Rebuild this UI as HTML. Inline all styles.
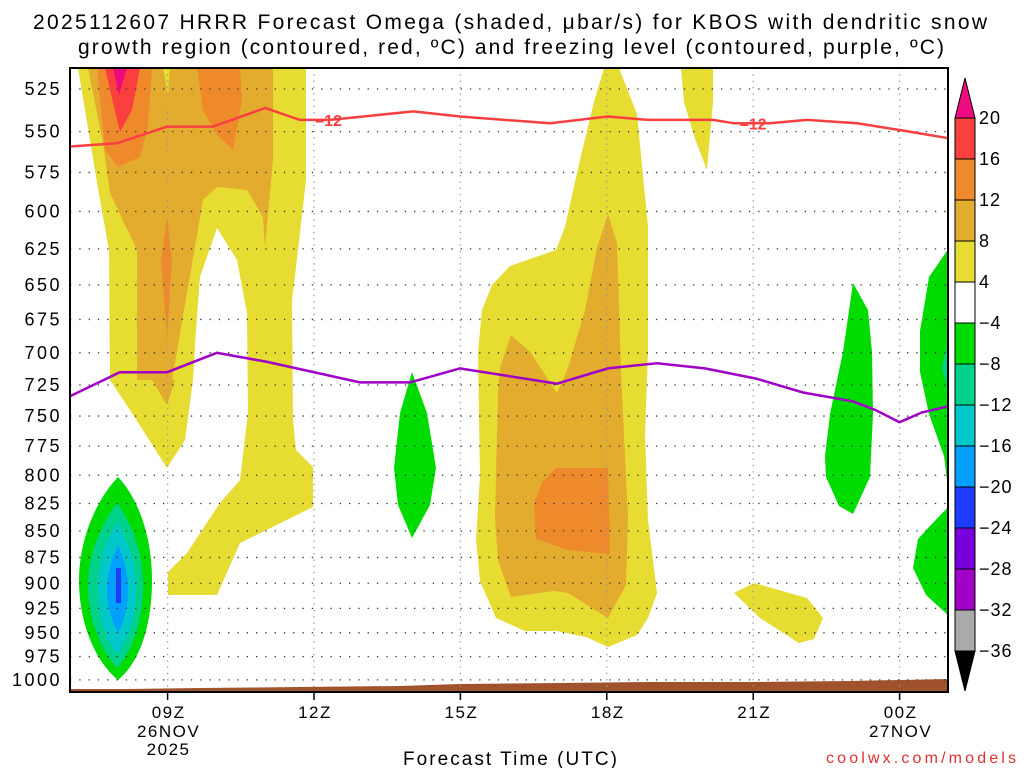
<!DOCTYPE html>
<html><head><meta charset="utf-8"><style>
html,body{margin:0;padding:0;background:#fff;}
svg{display:block;font-family:"Liberation Sans",sans-serif;}
</style></head><body>
<svg id="chart" width="1024" height="768" viewBox="0 0 1024 768" xmlns="http://www.w3.org/2000/svg">
<text x="33" y="29" font-size="21" textLength="954" lengthAdjust="spacing">2025112607 HRRR Forecast Omega (shaded, μbar/s) for KBOS with dendritic snow</text>
<text x="78" y="54" font-size="21" textLength="866" lengthAdjust="spacing">growth region (contoured, red, ºC) and freezing level (contoured, purple, ºC)</text>
<g id="fills">
<polygon fill="#e6dc32" points="78,68 306,68 306,180 298,250 292,300 293,420 296,450 313,467 313,507 240,543 217,595 168,595 168,572 187,553 220,503 240,480 248,413 247,313 237,260 217,228 200,277 196,330 193,380 185,440 167,468 130,410 110,380 109,250 100,200"/>
<polygon fill="#e3ac2e" points="88,68 163,68 168,95 170,68 273,68 273,160 265,247 263,217 247,190 217,187 203,200 187,293 172,380 175,380 167,405 152,380 137,380 137,250 110,193 103,143"/>
<polygon fill="#ef8a2c" points="97,68 152,68 148,127 140,157 118,167 105,150"/>
<polygon fill="#ef8a2c" points="197,68 240,68 242,100 233,150 217,135 203,110"/>
<polygon fill="#ef8a2c" points="167,217 172,260 167,337 161,260"/>
<polygon fill="#f9403f" points="105,68 140,68 132,110 120,132 113,103"/>
<polygon fill="#ef0a7f" points="113,68 127,68 119,95"/>
<path fill="#00dc00" d="M118,477 C140,500 152,540 152,580 C152,625 140,662 118,680 C96,662 79,625 79,580 C79,540 96,500 118,477 Z"/>
<path fill="#00d28c" d="M117,503 C133,525 143,555 143,585 C143,620 133,650 117,668 C101,650 88,620 88,585 C88,555 101,525 117,503 Z"/>
<path fill="#00c8c8" d="M117,523 C129,542 136,565 136,589 C136,615 129,638 117,655 C105,638 98,615 98,589 C98,565 105,542 117,523 Z"/>
<path fill="#00a0ff" d="M118,545 C125,560 128,575 128,589 C128,605 125,620 118,633 C111,620 107,605 107,589 C107,575 111,560 118,545 Z"/>
<rect x="116" y="568" width="5" height="35" fill="#1e3cff"/>
<polygon fill="#00dc00" points="412,372 427,413 436,468 430,505 412,538 398,505 394,468 400,413"/>
<polygon fill="#e6dc32" points="604,68 619,68 637,114 648,227 648,352 645,435 648,520 657,593 648,618 637,635 608,647 586,637 557,631 525,631 496,618 480,581 476,539 480,477 478,352 482,310 492,285 510,266 556,250 565,227 579,164 594,102"/>
<polygon fill="#e3ac2e" points="608,214 617,243 621,372 628,518 626,585 608,618 568,593 554,591 511,597 498,560 495,518 498,393 500,368 511,335 530,352 557,393 568,368 585,310 597,248"/>
<polygon fill="#ef8a2c" points="556,468 608,468 610,554 568,550 536,539 534,502 543,481"/>
<polygon fill="#e6dc32" points="681,68 713,68 713,102 707,170 695,139 684,102"/>
<polygon fill="#e6dc32" points="734,593 754,583 807,598 823,618 814,639 799,643 760,618"/>
<polygon fill="#00dc00" points="853,283 868,310 872,352 873,414 870,477 853,514 839,506 826,477 825,456 830,414 843,352"/>
<polygon fill="#00dc00" points="949,248 929,277 920,331 920,372 929,414 944,456 949,497"/>
<polygon fill="#00d28c" points="949,335 942,368 949,393"/>
<polygon fill="#00dc00" points="949,506 929,527 918,539 913,568 926,595 949,616"/>
<polygon fill="#a0522d" points="70,689 125,689 200,688 300,687 400,686 460,684 560,683 650,682 750,682 850,681 948,679 948,692 70,692"/>
</g>
<g id="grid"></g>
<g id="lines"></g>
<g id="axes"></g>
<rect x="70" y="68" width="878" height="624" fill="none" stroke="#000" stroke-width="2"/>
<g id="cbar"></g>
<text x="403" y="765" font-size="19" textLength="214" lengthAdjust="spacing">Forecast Time (UTC)</text>
<text x="826" y="763" font-size="16" fill="#e03030" textLength="190" lengthAdjust="spacing">coolwx.com/models</text>
</svg>
<script>
const pressureTicks=[525,550,575,600,625,650,675,700,725,750,775,800,825,850,875,900,925,950,975,1000];
const timeTicks=[9,12,15,18,21,24];
const timeLabels=["09Z","12Z","15Z","18Z","21Z","00Z"];
const dendriticHours=[7.0,7.96,8.99,9.93,11.0,11.71,12.33,14.03,14.99,16.84,18.02,18.84,20.18,20.61,21.34,22.10,23.13,24.0,25.01];
const dendriticP=[559,557,547,547,536,543,543,538,541,545,541,543,543,545,545,543,545,549,554];
const freezingHours=[7.0,8.02,8.99,10.01,11.04,12.94,13.97,14.99,16.98,18.02,19.03,20.01,21.06,22.02,23.04,23.5,24.0,24.46,25.01];
const freezingP=[734,715,715,700,707,723,723,712,724,712,708,712,720,731,738,745,755,747,742];
const cbarLabels=["20","16","12","8","4","\u22124","\u22128","\u221212","\u221216","\u221220","\u221224","\u221228","\u221232","\u221236"];
const cbarColors=["#f9403f","#ef8a2c","#e3ac2e","#e6dc32","#ffffff","#00dc00","#00d28c","#00c8c8","#00a0ff","#1e3cff","#7800dc","#a000c8","#aaaaaa"];
const NS="http://www.w3.org/2000/svg";
function xOf(h){return 70+(h-7)*48.8;}
function yOf(p){return 68+(Math.log(p)-6.2405)*917;}
function mk(tag,attrs,parent){const e=document.createElementNS(NS,tag);for(const k in attrs)e.setAttribute(k,attrs[k]);parent.appendChild(e);return e;}
const gridG=document.getElementById('grid'),axesG=document.getElementById('axes'),linesG=document.getElementById('lines'),cbarG=document.getElementById('cbar');
pressureTicks.forEach(p=>{
  const y=yOf(p);
  const l=mk('line',{x1:70,x2:948,y1:y,y2:y,stroke:'#333','stroke-width':1.3,'stroke-dasharray':'1.3,8'},gridG);
  
  
  const t=mk('text',{x:62,y:y+6,'text-anchor':'end','font-size':18,'letter-spacing':2.5},axesG);
  t.textContent=p;
  
  
});
timeTicks.forEach((h,i)=>{
  const x=xOf(h);
  const l=mk('line',{x1:x,x2:x,y1:68,y2:692,stroke:'#999','stroke-width':1.3,'stroke-dasharray':'1.3,5'},gridG);
  
  
  const tk=mk('line',{x1:x,x2:x,y1:692,y2:700,stroke:'#000','stroke-width':1.5},axesG);
  
  
  const t=mk('text',{x:x+1,y:718,'text-anchor':'middle','font-size':17,'letter-spacing':1.5},axesG);
  t.textContent=timeLabels[i];
  
  
});
[[9,"26NOV",737],[9,"2025",755],[24,"27NOV",737]].forEach(d=>{
  const t=mk('text',{x:xOf(d[0])+1,y:d[2],'text-anchor':'middle','font-size':17,'letter-spacing':1.5},axesG);
  t.textContent=d[1];
  
  
});
function pathD(hs,ps){return hs.map((h,i)=>(i?'L':'M')+xOf(h).toFixed(1)+','+yOf(ps[i]).toFixed(1)).join(' ');}
const red=mk('path',{d:pathD(dendriticHours,dendriticP),fill:'none',stroke:'#f94040','stroke-width':2.5},linesG);


const pur=mk('path',{d:pathD(freezingHours,freezingP),fill:'none',stroke:'#a000c8','stroke-width':2.5},linesG);


[12.3,21.0].forEach(h=>{
  let i=dendriticHours.findIndex(v=>v>=h);
  const p=dendriticP[Math.max(i,0)];
  const x=xOf(h),y=yOf(p);
  const t=mk('text',{x:x,y:y+6,'text-anchor':'middle','font-size':16,'font-weight':'bold',fill:'#f94040'},linesG);
  t.textContent='\u201312';
  
  
});
const cbX=955,cbW=20,cbTop=118,cbStep=41;
const tri=mk('polygon',{points:`${cbX},${cbTop} ${cbX+cbW},${cbTop} ${cbX+cbW/2},${cbTop-40}`,fill:'#ef0a7f',stroke:'#000','stroke-width':1},cbarG);


cbarColors.forEach((c,i)=>{
  const r=mk('rect',{x:cbX,y:cbTop+i*cbStep,width:cbW,height:cbStep,fill:c,stroke:'#000','stroke-width':1},cbarG);
  
  
});
const cbBot=cbTop+cbarColors.length*cbStep;
const tri2=mk('polygon',{points:`${cbX},${cbBot} ${cbX+cbW},${cbBot} ${cbX+cbW/2},${cbBot+40}`,fill:'#000',stroke:'#000','stroke-width':1},cbarG);


cbarLabels.forEach((s,i)=>{
  const t=mk('text',{x:979,y:cbTop+i*cbStep+6,'font-size':18,'letter-spacing':1},cbarG);
  t.textContent=s;
  
  
});
</script>
</body></html>
